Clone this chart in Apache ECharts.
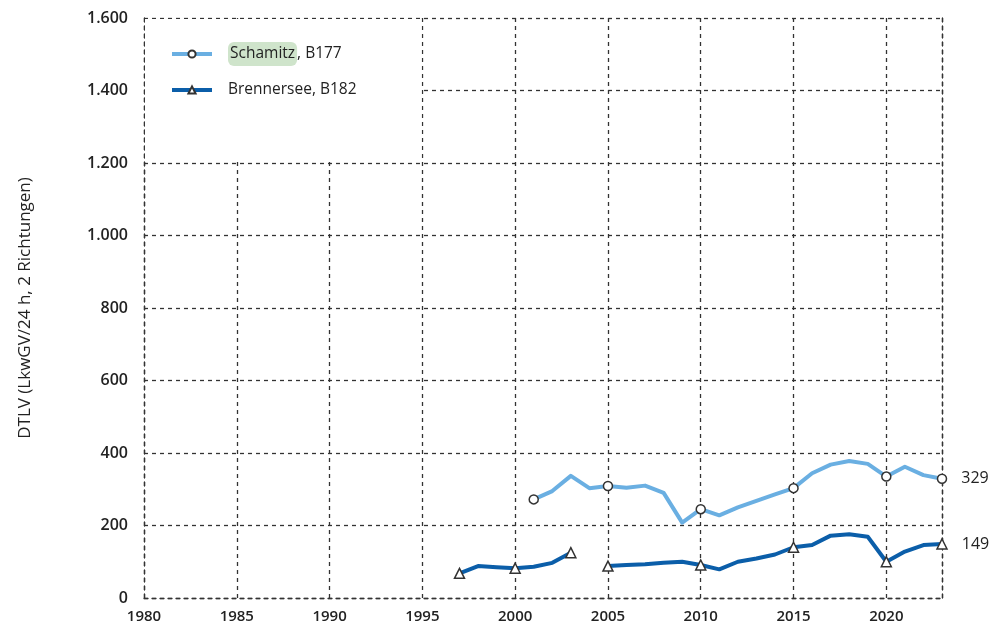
<!DOCTYPE html>
<html><head><meta charset="utf-8">
<script src="https://cdn.jsdelivr.net/npm/echarts@6/dist/echarts.min.js"></script>
<style>html,body{margin:0;padding:0;background:#fff}#c{width:993px;height:635px}</style>
</head><body><div id="c"></div>
<script>
const xTicks = [1980,1985,1990,1995,2000,2005,2010,2015,2020];
const schYears = [2001,2002,2003,2004,2005,2006,2007,2008,2009,2010,2011,2012,2013,2014,2015,2016,2017,2018,2019,2020,2021,2022,2023];
const schValues = [272,295,337,303,309,304,310,290,208,245,228,250,268,286,303,344,368,378,370,335,362,339,329];
const schMarkers = [2001,2005,2010,2015,2020,2023];
const breYears = [1997,1998,1999,2000,2001,2002,2003,2004,2005,2006,2007,2008,2009,2010,2011,2012,2013,2014,2015,2016,2017,2018,2019,2020,2021,2022,2023];
const breValues = [68,88,85,82,86,97,125,null,88,91,93,97,100,91,79,100,109,120,140,146,172,176,169,100,128,146,149];
const breMarkers = [1997,2000,2003,2005,2010,2015,2020,2023];
const names = ['Schamitz, B177','Brennersee, B182'];

const FONT = "'Open Sans', 'Noto Sans', sans-serif";
const GRIDLINE = {show:true, lineStyle:{color:'#333', width:1.3, type:[4,4]}};

function build(years, values, markers){
  return years.map((y,i)=>{
    const v = values[i];
    const item = {value:[y, v==null?'-':v]};
    if (!markers.includes(y)) item.symbol = 'none';
    if (i === years.length-1) item.label = {show:true, position:'right', distance:14, formatter:String(v), fontFamily:FONT, fontSize:16, color:'#222'};
    return item;
  });
}

const chart = echarts.init(document.getElementById('c'), null, {renderer:'canvas'});
chart.setOption({
  animation:false,
  backgroundColor:'#fff',
  grid:{left:144, right:51, top:18, bottom:37, containLabel:false},
  legend:{
    left:145, top:19, orient:'vertical', backgroundColor:'#fff',
    padding:[23,65,63,25], itemGap:16, itemWidth:40, itemHeight:9,
    lineStyle:{width:4},
    data:names,
    textStyle:{fontFamily:FONT, fontSize:15.5, color:'#222', padding:[0,0,0,11],
      rich:{hl:{backgroundColor:'#cfe4cb', borderRadius:6, padding:[4,2,4,2], fontFamily:FONT, fontSize:15.5, color:'#222'}}},
    formatter: n => n.startsWith('Schamitz') ? '{hl|Schamitz}, B177' : n
  },
  xAxis:{type:'value', min:1980, max:2023, interval:5,
    axisLine:{show:true, lineStyle:{color:'#333', width:1.3, type:[4,4]}},
    axisTick:{show:false},
    axisLabel:{fontFamily:FONT, fontSize:15, color:'#222', margin:11, fontWeight:600,
      customValues: xTicks, formatter: v => String(v)},
    splitLine:GRIDLINE},
  yAxis:[{type:'value', min:0, max:1600, interval:200,
    name:'DTLV (LkwGV/24 h, 2 Richtungen)', nameLocation:'middle', nameGap:110, nameRotate:90,
    nameTextStyle:{fontFamily:FONT, fontSize:17, color:'#222'},
    axisLine:{show:true, lineStyle:{color:'#333', width:1.3, type:[4,4]}},
    axisTick:{show:false},
    axisLabel:{fontFamily:FONT, fontSize:16, color:'#222', margin:16, fontWeight:600,
      formatter: v => String(v).replace(/\B(?=(\d{3})+(?!\d))/g,'.')},
    splitLine:GRIDLINE},
   {type:'value', min:0, max:1600, interval:200, position:'right',
    axisLine:{show:true, lineStyle:{color:'#333', width:1.3, type:[4,4]}},
    axisTick:{show:false}, axisLabel:{show:false}, splitLine:{show:false}}],
  series:[
    {name:names[0], type:'line', data:build(schYears, schValues, schMarkers),
     symbol:'circle', symbolSize:9, connectNulls:false,
     lineStyle:{color:'#6aafe2', width:4, join:'round'},
     itemStyle:{color:'#fff', borderColor:'#333', borderWidth:1.5}, z:3},
    {name:names[1], type:'line', data:build(breYears, breValues, breMarkers),
     symbol:'triangle', symbolSize:10, connectNulls:false,
     lineStyle:{color:'#0b5ea9', width:4, join:'round'},
     itemStyle:{color:'#fff', borderColor:'#333', borderWidth:1.5}, z:3}
  ]
});
</script></body></html>
